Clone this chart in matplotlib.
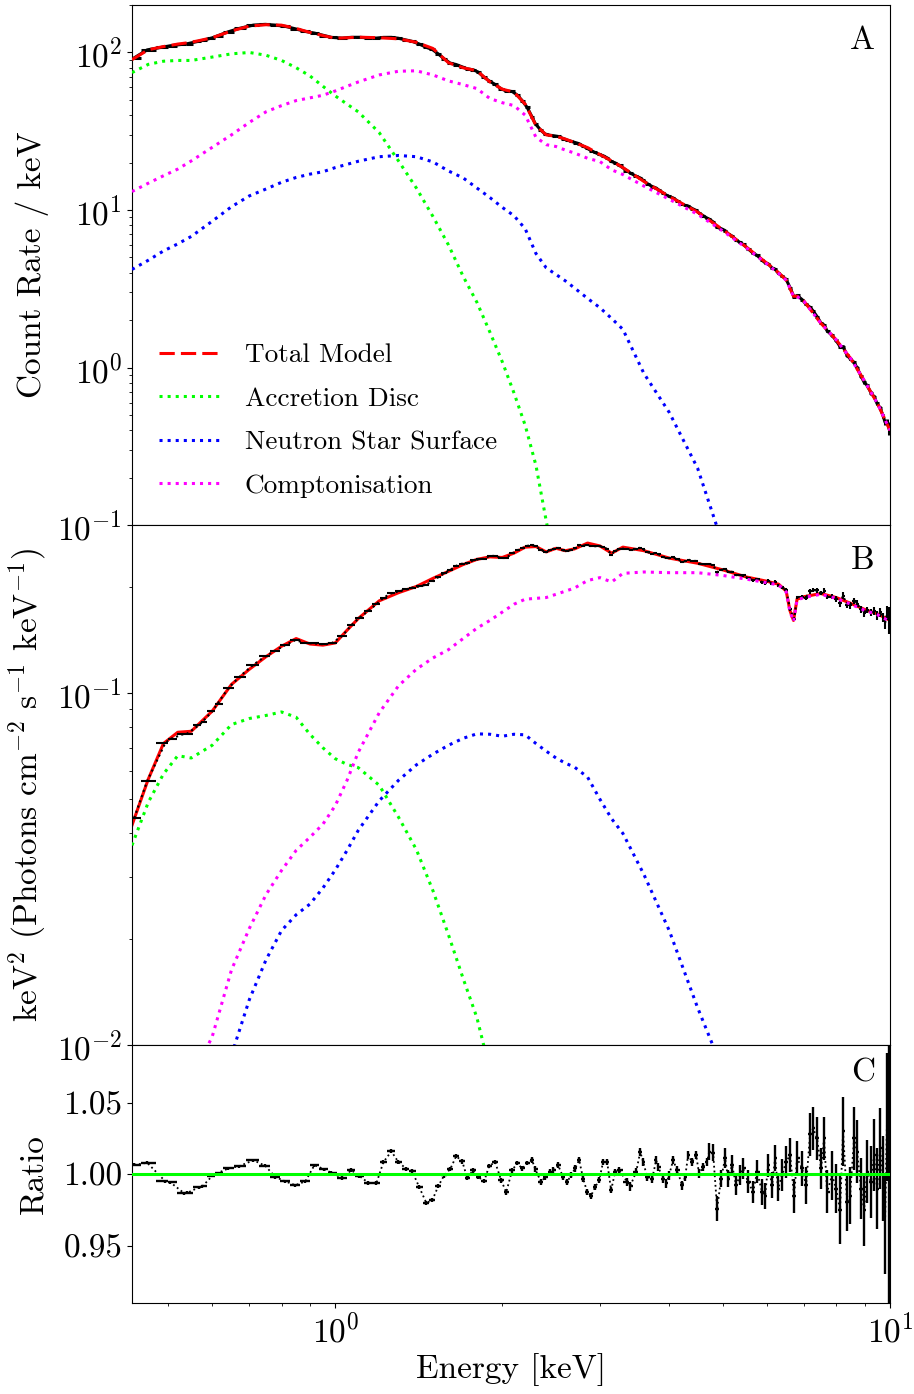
import numpy as np
import matplotlib.pyplot as plt
from matplotlib.ticker import FixedLocator, FormatStrFormatter, NullFormatter

plt.rcParams['font.family'] = 'serif'
plt.rcParams['font.serif'] = ['cmr10']
plt.rcParams['mathtext.fontset'] = 'cm'
plt.rcParams['axes.formatter.use_mathtext'] = True
plt.rcParams['axes.unicode_minus'] = False

nan = np.nan

# model grid (keV)
energy_model = [0.43, 0.46, 0.49, 0.52, 0.55, 0.60, 0.65, 0.70, 0.75, 0.80,
                0.85, 0.90, 0.95, 1.0, 1.05, 1.1, 1.2, 1.3, 1.4, 1.5,
                1.6, 1.7, 1.8, 1.9, 2.0, 2.1, 2.2, 2.3, 2.4, 2.5,
                2.6, 2.7, 2.85, 3.0, 3.15, 3.3, 3.6, 4.0, 4.5, 5.0,
                5.5, 6.0, 6.3, 6.5, 6.6, 6.7, 6.8, 7.0, 7.5, 8.0,
                8.5, 9.0, 9.5, 10.0]

# panel A: count rate / keV
total_rate = [90, 104, 109, 113, 116, 124, 137, 147, 150, 149,
              142, 134, 128, 123, 124, 125, 124, 122, 116, 106,
              86, 80, 76.5, 65, 58.5, 56, 47, 34.5, 30, 29.4,
              28.2, 26.8, 24.9, 22.5, 20.5, 18.6, 15.2, 12.2, 9.7, 7.5,
              5.85, 4.6, 4.0, 3.6, 3.2, 2.84, 2.84, 2.64, 1.92, 1.50,
              1.14, 0.82, 0.59, 0.40]
disc_rate = [74.5, 84, 88, 89, 89, 93.5, 98, 100, 96, 89,
             80, 71, 61, 53, 47, 42, 31, 20.5, 13.8, 9.1,
             6.0, 3.8, 2.6, 1.68, 1.09, 0.69, 0.43, 0.24, 0.107, 0.05,
             nan, nan, nan, nan, nan, nan, nan, nan, nan, nan,
             nan, nan, nan, nan, nan, nan, nan, nan, nan, nan,
             nan, nan, nan, nan]
ns_rate = [4.2, 4.8, 5.5, 6.1, 6.8, 8.5, 10.5, 12.3, 13.6, 15.0,
           16.1, 16.9, 17.5, 18.6, 19.5, 20.4, 21.8, 22.2, 21.8, 20.2,
           17.7, 16.0, 13.8, 12.0, 10.4, 9.2, 7.6, 5.3, 4.3, 3.9,
           3.55, 3.2, 2.75, 2.4, 2.05, 1.75, 0.92, 0.52, 0.23, 0.075,
           nan, nan, nan, nan, nan, nan, nan, nan, nan, nan,
           nan, nan, nan, nan]
compt_rate = [13.1, 14.8, 16.5, 18.2, 20.5, 25, 30, 36, 42, 46,
              49.5, 51.5, 53.5, 57, 61, 65, 72, 76, 76.5, 72,
              66, 62.5, 59, 51, 48, 46, 40, 29, 26, 25.3,
              24.0, 23, 21.3, 20.3, 18.0, 16.8, 14.2, 11.7, 9.4, 7.35,
              5.78, 4.55, 3.96, 3.58, 3.2, 2.83, 2.83, 2.63, 1.92, 1.50,
              1.14, 0.82, 0.59, 0.40]

# panel B: unfolded E^2 F(E)
total_eeuf = [0.0422, 0.057, 0.072, 0.0775, 0.078, 0.089, 0.106, 0.117, 0.127, 0.136,
              0.143, 0.138, 0.137, 0.139, 0.151, 0.163, 0.183, 0.193, 0.201, 0.212,
              0.222, 0.232, 0.240, 0.244, 0.243, 0.250, 0.260, 0.261, 0.252, 0.258,
              0.254, 0.257, 0.267, 0.262, 0.250, 0.260, 0.254, 0.242, 0.234, 0.224,
              0.214, 0.208, 0.204, 0.195, 0.172, 0.161, 0.185, 0.188, 0.192, 0.187,
              0.180, 0.173, 0.168, 0.161]
disc_eeuf = [0.037, 0.049, 0.059, 0.0665, 0.0655, 0.0712, 0.0815, 0.0848, 0.0865, 0.0885,
             0.0855, 0.0765, 0.070, 0.0652, 0.0628, 0.0615, 0.0548, 0.0445, 0.0360, 0.0275,
             0.0206, 0.0155, 0.0120, 0.0085, nan, nan, nan, nan, nan, nan,
             nan, nan, nan, nan, nan, nan, nan, nan, nan, nan,
             nan, nan, nan, nan, nan, nan, nan, nan, nan, nan,
             nan, nan, nan, nan]
ns_eeuf = [nan, nan, nan, nan, nan, nan, 0.0094, 0.0135, 0.0175, 0.0212,
           0.0235, 0.0252, 0.028, 0.0315, 0.0358, 0.0408, 0.0495, 0.0566, 0.0626, 0.0672,
           0.0712, 0.0745, 0.0767, 0.0765, 0.0755, 0.0765, 0.0762, 0.072, 0.0685, 0.0655,
           0.0633, 0.0617, 0.0578, 0.050, 0.0440, 0.040, 0.0306, 0.0212, 0.0128, 0.0085,
           nan, nan, nan, nan, nan, nan, nan, nan, nan, nan,
           nan, nan, nan, nan]
compt_eeuf = [nan, nan, nan, nan, 0.0080, 0.0106, 0.0164, 0.0215, 0.0268, 0.0314,
              0.0358, 0.039, 0.0425, 0.048, 0.0566, 0.068, 0.088, 0.105, 0.117, 0.126,
              0.133, 0.143, 0.153, 0.161, 0.170, 0.179, 0.185, 0.186, 0.187, 0.191,
              0.195, 0.199, 0.209, 0.213, 0.207, 0.219, 0.221, 0.220, 0.220, 0.216,
              0.211, 0.206, 0.203, 0.194, 0.171, 0.160, 0.184, 0.187, 0.191, 0.186,
              0.179, 0.172, 0.167, 0.160]

# data bins (keV) and data/model ratio
energy_data = [0.434, 0.458, 0.494, 0.504, 0.534, 0.541, 0.569, 0.576, 0.600, 0.613,
               0.641, 0.671, 0.712, 0.748, 0.780, 0.813, 0.847, 0.883, 0.917, 0.955,
               0.984,
               1.029, 1.069, 1.105, 1.147, 1.186, 1.221, 1.262, 1.299, 1.343, 1.376,
               1.417, 1.459, 1.496, 1.533, 1.572, 1.611, 1.652, 1.694, 1.729, 1.773,
               1.810, 1.856, 1.894, 1.942, 1.991, 2.033, 2.084, 2.128, 2.172, 2.218,
               2.264, 2.293, 2.350, 2.390, 2.440, 2.471, 2.522, 2.575, 2.618, 2.662,
               2.706, 2.752, 2.798, 2.845, 2.892, 2.941, 2.990, 3.040, 3.091, 3.143,
               3.195, 3.249, 3.359, 3.401, 3.487, 3.546, 3.590, 3.650, 3.727, 3.789,
               3.821, 3.900, 3.949, 3.998, 4.065, 4.133, 4.220, 4.273, 4.326, 4.399,
               4.472, 4.528, 4.604, 4.681,
               4.720, 4.799, 4.880, 4.961, 5.044, 5.108, 5.193, 5.280, 5.368, 5.436,
               5.550, 5.666, 5.761, 5.881, 5.955, 6.030, 6.131, 6.207, 6.285, 6.390,
               6.497, 6.606, 6.717, 6.801, 6.943, 7.060, 7.178, 7.268, 7.389, 7.513,
               7.607, 7.703, 7.864, 7.996, 8.129, 8.231, 8.369, 8.474, 8.616, 8.724,
               8.870, 8.981, 9.093, 9.245, 9.361, 9.478, 9.597, 9.717, 9.798, 9.880,
               9.959]
ratio = [1.0065, 1.008, 0.995, 0.9944, 0.9867, 0.987, 0.991, 0.9915, 0.9988, 1.0007,
         1.004, 1.0056, 1.0098, 1.0058, 0.998, 0.995, 0.9923, 0.995, 1.0063, 1.0035,
         1.001,
         0.9974, 1.0028, 0.9988, 0.994, 0.9937, 1.0084, 1.016, 1.0086, 1.0037, 1.002,
         0.991, 0.980, 0.9818, 0.9916, 0.9993, 1.0035, 1.0126, 1.009, 0.9974, 1.0028,
         0.998, 0.9953, 1.0058, 1.0084, 0.9958, 0.9874, 1.0028, 1.0077, 1.004, 1.0077,
         1.0098, 1.0035, 0.9946, 0.998, 1.0016, 1.0028, 1.0063, 0.998, 0.9946, 0.9993,
         1.004, 1.0098, 0.997, 0.9876, 0.985, 0.991, 0.9958, 1.0086, 1.0086, 0.9888,
         1.0016, 1.0028, 0.9946, 0.9916, 1.0016, 1.0156, 1.0086, 0.998, 0.997, 1.0098,
         1.005, 0.997, 0.9937, 0.9993, 1.0098, 1.0028, 0.9923, 0.998, 1.0133, 1.0086,
         1.0133, 1.0005, 1.005, 1.0086,
         1.0156, 1.0150, 0.976, 0.997, 1.0112, 0.997, 1.0063, 0.9923, 0.9993, 1.004,
         0.9946, 0.9876, 1.0016, 0.9876, 0.985, 1.0063, 0.9923, 1.0112, 0.990, 0.9993,
         1.0086, 1.0133, 0.985, 1.0112, 1.004, 0.9923, 1.028, 1.032, 1.025, 1.004,
         1.025, 0.9876, 0.9993, 0.990, 0.975, 1.030, 0.9806, 0.985, 1.025, 1.0156,
         0.990, 0.975, 1.0016, 0.9946, 1.0133, 0.990, 1.018, 0.997, 0.965, 1.04,
         1.0]
ratio_err = [0.0010, 0.0010, 0.0010, 0.0010, 0.0010, 0.0010, 0.0010, 0.0010, 0.0010, 0.0010,
             0.0010, 0.0010, 0.0010, 0.0010, 0.0010, 0.0010, 0.0010, 0.0010, 0.0010, 0.0010,
             0.0010,
             0.0013, 0.0013, 0.0013, 0.0013, 0.0013, 0.0013, 0.0013, 0.0013, 0.0013, 0.0013,
             0.0013, 0.0013, 0.0013, 0.0013, 0.0016, 0.0016, 0.0016, 0.0016, 0.0016, 0.0016,
             0.0016, 0.0016, 0.0016, 0.0016, 0.0016, 0.0016, 0.0016, 0.0016, 0.0016, 0.0016,
             0.0022, 0.0022, 0.0022, 0.0022, 0.0022, 0.0022, 0.0022, 0.0022, 0.0022, 0.0022,
             0.0022, 0.0022, 0.0022, 0.0022, 0.0022, 0.0022, 0.0022, 0.0022, 0.0022, 0.0022,
             0.0022, 0.0022, 0.0030, 0.0030, 0.0030, 0.0030, 0.0030, 0.0030, 0.0030, 0.0030,
             0.0030, 0.0030, 0.0030, 0.0030, 0.0030, 0.0030, 0.0030, 0.0030, 0.0030, 0.0030,
             0.0030, 0.0030, 0.0030, 0.0030,
             0.006, 0.006, 0.009, 0.006, 0.007, 0.006, 0.007, 0.007, 0.007, 0.007,
             0.008, 0.008, 0.008, 0.009, 0.009, 0.008, 0.009, 0.009, 0.009, 0.011,
             0.011, 0.012, 0.012, 0.012, 0.012, 0.013, 0.015, 0.015, 0.015, 0.014,
             0.015, 0.015, 0.017, 0.017, 0.024, 0.024, 0.020, 0.020, 0.022, 0.022,
             0.021, 0.025, 0.022, 0.025, 0.025, 0.028, 0.028, 0.030, 0.035, 0.045,
             0.090]

labels = ['Total Model', 'Accretion Disc', 'Neutron Star Surface', 'Comptonisation']
colors = ['#ff0000', '#00ff00', '#0000ff', '#ff00ff']


def model_at(e, e_model, m):
    # evaluate a model curve at the data energies (log-log)
    return np.exp(np.interp(np.log(e), np.log(e_model), np.log(m)))


e = np.array(energy_data)
em = np.array(energy_model)
r = np.array(ratio)
rerr = np.array(ratio_err)
mid = np.sqrt(e[1:] * e[:-1])
lo = np.concatenate([[e[0] ** 2 / mid[0]], mid])
hi = np.concatenate([mid, [e[-1] ** 2 / mid[-1]]])
xerr = [e - lo, hi - e]

fig = plt.figure(figsize=(9.14, 13.94), dpi=100)
gs = fig.add_gridspec(3, 1, height_ratios=[2, 2, 0.99], hspace=0,
                      left=0.1444, right=0.9737, top=0.9964, bottom=0.0653)
ax1 = fig.add_subplot(gs[0])
ax2 = fig.add_subplot(gs[1], sharex=ax1)
ax3 = fig.add_subplot(gs[2], sharex=ax1)

# panel A
tot_a = model_at(e, em, total_rate)
ax1.errorbar(e, tot_a * r, xerr=xerr, yerr=tot_a * rerr, fmt='-', color='k',
             lw=2.2, elinewidth=2.2, capsize=0, zorder=2)
ax1.plot(em, total_rate, color=colors[0], ls=(0, (5, 2)), lw=2.2, label=labels[0], zorder=3)
ax1.plot(em, disc_rate, color=colors[1], ls=':', lw=2.2, label=labels[1], zorder=3)
ax1.plot(em, ns_rate, color=colors[2], ls=':', lw=2.2, label=labels[2], zorder=3)
ax1.plot(em, compt_rate, color=colors[3], ls=':', lw=2.2, label=labels[3], zorder=4)
ax1.set_yscale('log')
ax1.set_ylim(0.1, 200)
ax1.set_ylabel('Count Rate / keV', fontsize=24)
ax1.legend(loc='lower left', frameon=False, fontsize=19.6, handlelength=2.2,
           handletextpad=0.95, labelspacing=0.72, borderaxespad=0.6)
ax1.text(0.98, 0.96, 'A', transform=ax1.transAxes, ha='right', va='top', fontsize=24)

# panel B
tot_b = model_at(e, em, total_eeuf)
ax2.plot(em, total_eeuf, color=colors[0], lw=2.2, zorder=2)
ax2.errorbar(e, tot_b * r, xerr=xerr, yerr=tot_b * rerr, fmt=':', color='k',
             lw=1.5, elinewidth=1.5, capsize=0, zorder=3)
ax2.plot(em, disc_eeuf, color=colors[1], ls=':', lw=2.2, zorder=4)
ax2.plot(em, ns_eeuf, color=colors[2], ls=':', lw=2.2, zorder=4)
ax2.plot(em, compt_eeuf, color=colors[3], ls=':', lw=2.2, zorder=4)
ax2.set_yscale('log')
ax2.set_ylim(0.01, 0.3)
ax2.set_ylabel(r'keV$^2$ (Photons cm$^{-2}$ s$^{-1}$ keV$^{-1}$)', fontsize=24)
ax2.text(0.98, 0.96, 'B', transform=ax2.transAxes, ha='right', va='top', fontsize=24)

# panel C
ax3.errorbar(e, r, xerr=xerr, yerr=rerr, fmt=':', color='k',
             lw=1.3, elinewidth=1.7, capsize=0, zorder=2)
ax3.axhline(1.0, color=colors[1], lw=2.2, zorder=3)
ax3.set_ylim(0.91, 1.09)
ax3.yaxis.set_major_locator(FixedLocator([0.95, 1.00, 1.05]))
ax3.yaxis.set_major_formatter(FormatStrFormatter('%.2f'))
ax3.set_ylabel('Ratio', fontsize=24)
ax3.set_xlabel('Energy [keV]', fontsize=24)
ax3.text(0.98, 0.95, 'C', transform=ax3.transAxes, ha='right', va='top', fontsize=24)

ax1.set_xscale('log')
ax1.set_xlim(0.43, 10)
ax3.xaxis.set_minor_formatter(NullFormatter())
for ax in (ax1, ax2):
    ax.tick_params(axis='x', which='both', bottom=False, labelbottom=False)
for ax in (ax1, ax2, ax3):
    ax.tick_params(labelsize=24)
    ax.yaxis.set_label_coords(-0.11, 0.5)

plt.savefig('out.png', dpi=100)
